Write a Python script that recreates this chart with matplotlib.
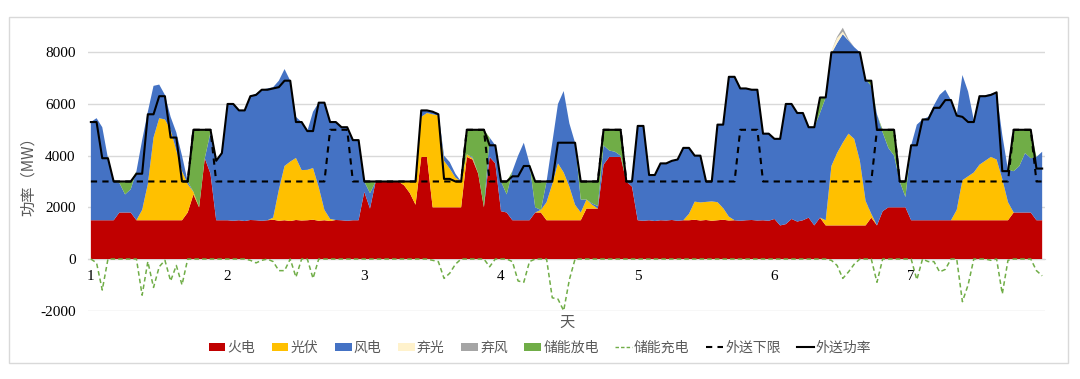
import numpy as np
import matplotlib.pyplot as plt
from matplotlib.patches import Patch, Rectangle
from matplotlib.lines import Line2D

plt.rcParams['font.family'] = ['Liberation Serif', 'Noto Sans CJK SC']
plt.rcParams['axes.unicode_minus'] = False

# hourly values over 7 days, one row per day (MW)
thermal = [
    [1500, 1500, 1500, 1500, 1500, 1800, 1800, 1800, 1500, 1500, 1500, 1500, 1500, 1500, 1500, 1500, 1500, 1800, 2500, 2000, 3900, 3300, 1500, 1500],
    [1500, 1480, 1500, 1470, 1510, 1500, 1480, 1500, 1520, 1480, 1500, 1470, 1510, 1490, 1500, 1520, 1480, 1500, 1470, 1510, 1500, 1480, 1500, 1500],
    [2600, 1950, 3000, 3000, 3000, 3000, 3000, 2850, 2550, 2100, 3950, 3950, 2000, 2000, 2000, 2000, 2000, 2000, 3950, 3850, 3300, 2000, 3950, 3700],
    [1850, 1800, 1500, 1500, 1500, 1500, 1800, 1800, 1500, 1500, 1500, 1500, 1500, 1500, 1500, 1950, 1950, 1950, 3650, 3950, 3950, 3950, 3000, 2800],
    [1500, 1480, 1500, 1470, 1500, 1490, 1510, 1480, 1500, 1500, 1520, 1490, 1510, 1480, 1500, 1520, 1490, 1500, 1480, 1500, 1510, 1490, 1500, 1480],
    [1550, 1300, 1350, 1550, 1450, 1500, 1600, 1300, 1600, 1300, 1300, 1300, 1300, 1300, 1300, 1300, 1300, 1600, 1300, 1850, 2000, 2000, 2000, 2000],
    [1500, 1500, 1500, 1500, 1500, 1500, 1500, 1500, 1500, 1500, 1500, 1500, 1500, 1500, 1500, 1500, 1500, 1500, 1800, 1800, 1800, 1800, 1500, 1500],
]
pv = [
    [0, 0, 0, 0, 0, 0, 0, 0, 0, 400, 1400, 3200, 3950, 3900, 3500, 2700, 1900, 1100, 100, 0, 0, 0, 0, 0],
    [0, 0, 0, 0, 0, 0, 0, 0, 80, 1200, 2100, 2300, 2400, 1950, 1950, 2000, 1300, 400, 80, 0, 0, 0, 0, 0],
    [0, 0, 0, 0, 0, 0, 0, 150, 450, 900, 1550, 1700, 3600, 3550, 1800, 1500, 1150, 1000, 100, 50, 0, 0, 0, 0],
    [0, 0, 0, 0, 0, 0, 0, 100, 700, 1400, 2200, 1850, 1300, 600, 300, 350, 150, 0, 0, 0, 0, 0, 0, 0],
    [0, 0, 0, 0, 0, 0, 0, 0, 0, 250, 700, 700, 700, 750, 700, 450, 150, 0, 0, 0, 0, 0, 0, 0],
    [0, 0, 0, 0, 0, 0, 0, 0, 0, 200, 2300, 2800, 3200, 3550, 3350, 2500, 950, 150, 0, 0, 0, 0, 0, 0],
    [0, 0, 0, 0, 0, 0, 0, 0, 400, 1550, 1700, 1850, 2150, 2300, 2450, 2350, 1600, 700, 0, 0, 0, 0, 0, 0],
]
wind = [
    [3800, 3950, 3600, 2400, 1500, 1150, 700, 900, 1900, 2700, 2800, 2000, 1300, 950, 500, 700, 600, 100, 0, 0, 0, 1600, 2300, 2600],
    [4500, 4520, 4250, 4280, 4790, 4900, 5070, 5100, 5050, 4220, 3750, 3130, 1590, 1860, 1500, 2180, 3270, 4150, 3750, 3790, 3600, 3620, 3100, 3100],
    [400, 600, 0, 0, 0, 0, 0, 0, 0, 0, 250, 100, 100, 100, 200, 250, 150, 0, 0, 50, 0, 0, 750, 700],
    [1150, 700, 1900, 2500, 3000, 2200, 200, 0, 800, 1600, 2300, 3150, 2450, 2400, 500, 0, 50, 100, 750, 250, 200, 50, 0, 200],
    [3650, 3670, 1750, 1780, 2200, 2210, 2290, 2370, 2800, 2550, 1780, 1810, 790, 770, 3000, 3230, 5410, 5550, 5120, 5100, 5040, 5060, 3350, 3370],
    [3100, 3350, 4650, 4450, 4200, 4150, 3500, 3800, 4050, 4750, 4350, 4250, 4200, 3600, 3550, 4200, 4700, 4950, 4300, 3050, 2300, 2000, 1000, 400],
    [2900, 3700, 3900, 4000, 4450, 4850, 5050, 4650, 3670, 4070, 3280, 2030, 2660, 2530, 2440, 2590, 1700, 1250, 1600, 1800, 2300, 2100, 2450, 2650],
]
pv_curtailed = [
    [0] * 24,
    [0] * 24,
    [0] * 24,
    [0] * 24,
    [0] * 24,
    [0, 0, 0, 0, 0, 0, 0, 0, 0, 0, 100, 200, 100, 0, 0, 0, 0, 0, 0, 0, 0, 0, 0, 0],
    [0] * 24,
]
wind_curtailed = [
    [0] * 24,
    [0] * 24,
    [0] * 24,
    [0] * 24,
    [0] * 24,
    [0, 0, 0, 0, 0, 0, 0, 0, 0, 0, 0, 50, 150, 50, 0, 0, 0, 0, 0, 0, 0, 0, 0, 0],
    [0] * 24,
]
discharge = [
    [0, 0, 0, 0, 0, 50, 500, 300, 0, 0, 0, 0, 0, 0, 0, 0, 0, 0, 2400, 3000, 1100, 100, 0, 0],
    [0] * 24,
    [0, 450, 0, 0, 0, 0, 0, 0, 0, 0, 0, 0, 0, 0, 0, 0, 0, 0, 950, 1050, 1700, 3000, 0, 0],
    [0, 500, 0, 0, 0, 0, 1000, 1100, 0, 0, 0, 0, 0, 0, 700, 700, 850, 950, 600, 800, 850, 1000, 0, 0],
    [0] * 24,
    [0, 0, 0, 0, 0, 0, 0, 0, 600, 0, 0, 0, 0, 0, 0, 0, 0, 200, 0, 100, 700, 1000, 0, 600],
    [0, 0, 0, 0, 0, 0, 0, 0, 0, 0, 0, 0, 0, 0, 0, 0, 0, 0, 1600, 1400, 900, 1100, 0, 0],
]
charge = [
    [0, -150, -1200, 0, 0, 0, 0, 0, 0, -1400, -100, -1100, -300, -50, -850, -250, -1000, 0, 0, 0, 0, 0, 0, 0],
    [0, 0, 0, 0, -50, -150, -50, 0, -100, -450, -450, 0, -700, 0, 0, -750, 0, 0, 0, 0, 0, 0, 0, 0],
    [0, 0, 0, 0, 0, 0, 0, 0, 0, 0, 0, 0, -50, -100, -750, -550, -200, 0, 0, 0, 0, 0, -300, 0],
    [0, 0, -100, -850, -900, -100, 0, 0, 0, -1500, -1550, -2000, -800, 0, 0, 0, 0, 0, 0, 0, 0, 0, 0, 0],
    [0] * 24,
    [0, 0, 0, 0, 0, 0, 0, 0, 0, 0, -50, -250, -750, -500, -200, 0, 0, 0, -900, 0, 0, 0, 0, 0],
    [0, -800, 0, -100, -100, -500, -400, 0, 0, -1650, -1000, 0, 0, 0, -50, 0, -1350, -50, 0, 0, 0, 0, -450, -650],
]
lower_limit = [
    [3000] * 18 + [5000, 5000, 5000, 5000, 3000, 3000],
    [3000] * 18 + [5000, 5000, 5000, 5000, 3000, 3000],
    [3000] * 18 + [5000, 5000, 5000, 5000, 3000, 3000],
    [3000] * 18 + [5000, 5000, 5000, 5000, 3000, 3000],
    [3000] * 18 + [5000, 5000, 5000, 5000, 3000, 3000],
    [3000] * 18 + [5000, 5000, 5000, 5000, 3000, 3000],
    [3000] * 18 + [5000, 5000, 5000, 5000, 3000, 3000],
]
export = [
    [5300, 5300, 3900, 3900, 3000, 3000, 3000, 3000, 3300, 3300, 5600, 5600, 6300, 6300, 4700, 4700, 3000, 3000, 5000, 5000, 5000, 5000, 3800, 4100],
    [6000, 6000, 5750, 5750, 6300, 6350, 6550, 6550, 6600, 6650, 6900, 6900, 5300, 5300, 4950, 4950, 6050, 6050, 5300, 5300, 5100, 5100, 4600, 4600],
    [3000, 3000, 3000, 3000, 3000, 3000, 3000, 3000, 3000, 3000, 5750, 5750, 5700, 5600, 3100, 3100, 3000, 3000, 5000, 5000, 5000, 5000, 4400, 4400],
    [3000, 3000, 3200, 3200, 3600, 3600, 3000, 3000, 3000, 3000, 4500, 4500, 4500, 4500, 3000, 3000, 3000, 3000, 5000, 5000, 5000, 5000, 3000, 3000],
    [5150, 5150, 3250, 3250, 3700, 3700, 3800, 3850, 4300, 4300, 4000, 4000, 3000, 3000, 5200, 5200, 7050, 7050, 6600, 6600, 6550, 6550, 4850, 4850],
    [4650, 4650, 6000, 6000, 5650, 5650, 5100, 5100, 6250, 6250, 8000, 8000, 8000, 8000, 8000, 8000, 6900, 6900, 5000, 5000, 5000, 5000, 3000, 3000],
    [4400, 4400, 5400, 5400, 5850, 5850, 6150, 6150, 5550, 5500, 5300, 5300, 6300, 6300, 6350, 6450, 3400, 3400, 5000, 5000, 5000, 5000, 3500, 3500],
]
day_labels = ['1', '2', '3', '4', '5', '6', '7']
area_names = ['火电', '光伏', '风电', '弃光', '弃风', '储能放电']
area_colors = ['#C00000', '#FFC000', '#4472C4', '#FFF2CC', '#A5A5A5', '#70AD47']


def flat(rows):
    return np.array(rows, dtype=float).ravel()


hours = np.arange(len(flat(export)))

fig = plt.figure(figsize=(10.8, 3.79), dpi=100)
# light chart border
fig.patches.append(Rectangle((9 / 1080, 1 - 363 / 379), 1059 / 1080, 346 / 379,
                             transform=fig.transFigure, fill=False,
                             edgecolor='#d9d9d9', lw=1))
ax = fig.add_axes([0.0815, 0.1802, 0.8861, 0.7501])

ax.stackplot(hours, flat(thermal), flat(pv), flat(wind), flat(pv_curtailed),
             flat(wind_curtailed), flat(discharge), colors=area_colors, lw=0)
ax.plot(hours, flat(charge), color='#70AD47', lw=1.1, ls=(0, (3, 2)), zorder=4)
ax.plot(hours, flat(lower_limit), color='black', lw=1.5, ls=(0, (3, 2.5)), zorder=5)
ax.plot(hours, flat(export), color='black', lw=1.5, zorder=6)

ax.set_xlim(-0.5, 167.5)
ax.set_ylim(-2000, 9000)
ax.set_yticks(range(-2000, 8001, 2000))
ax.grid(axis='y', color='#d9d9d9', lw=1)
ax.set_axisbelow(True)
for s in ax.spines.values():
    s.set_visible(False)
ax.spines['bottom'].set_visible(True)
ax.spines['bottom'].set_position(('data', 0))
ax.spines['bottom'].set_color('#d9d9d9')
ax.spines['bottom'].set_zorder(0.6)
ax.set_xticks(np.arange(0, 168, 24), day_labels)
ax.tick_params(axis='x', length=0, pad=8, labelsize=11)
ax.tick_params(axis='y', length=0, pad=9, labelsize=11)

fig.text(0.026, 0.5435, '功率（MW）', rotation=90, ha='center', va='center',
         fontsize=11, color='#595959', family=['Noto Sans CJK SC', 'DejaVu Sans'])
fig.text(0.525, 0.150, '天', ha='center', va='center', fontsize=11,
         color='#595959', family=['Noto Sans CJK SC'])

handles = [Patch(facecolor=c, edgecolor='none') for c in area_colors]
handles += [Line2D([], [], color='#70AD47', lw=1, ls=(0, (2.5, 1.5))),
            Line2D([], [], color='black', lw=1.5, ls=(0, (3, 2.5))),
            Line2D([], [], color='black', lw=1.5)]
labels = area_names + ['储能充电', '外送下限', '外送功率']
leg = fig.legend(handles, labels, loc='center', bbox_to_anchor=(0.5, 0.082),
                 ncol=9, frameon=False, handlelength=1.2, handleheight=0.6,
                 handletextpad=0.15, columnspacing=1.2,
                 prop={'family': ['Noto Sans CJK SC'], 'size': 10})
for t in leg.get_texts():
    t.set_color('#595959')

fig.savefig('out.png', dpi=100)
